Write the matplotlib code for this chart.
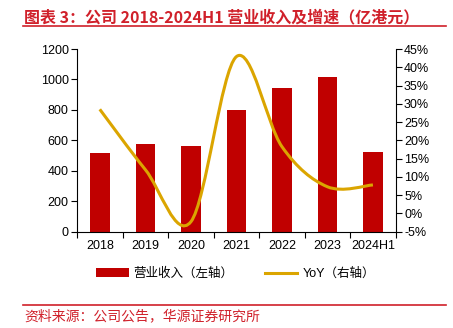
import matplotlib
matplotlib.use("Agg")
import matplotlib.pyplot as plt
from matplotlib.path import Path
from matplotlib.patches import PathPatch
from matplotlib.lines import Line2D
from matplotlib.patches import Patch
import numpy as np

plt.rcParams['font.family'] = ['Liberation Sans', 'Noto Sans CJK SC', 'DejaVu Sans']

categories = ['2018', '2019', '2020', '2021', '2022', '2023', '2024H1']
revenue = [515, 574, 561, 797, 946, 1014, 525]
yoy = [28.5, 12.0, -2.3, 42.9, 18.3, 7.3, 7.8]

bar_color = '#C00000'
line_color = '#DBA500'
red = '#D0202A'

fig = plt.figure(figsize=(4.53, 3.28), dpi=100)
ax = fig.add_axes([0.170, 0.2936, 0.7035, 0.557])
x = np.arange(len(categories))
ax.bar(x, revenue, width=0.43, color=bar_color, zorder=2)
ax.set_xlim(-0.5, len(categories) - 0.5)
ax.set_ylim(0, 1200)
ax.set_yticks(range(0, 1201, 200))
ax.set_xticks(x)
ax.set_xticklabels(categories)
ax.set_xticks(np.arange(-0.5, len(categories), 1), minor=True)
ax.tick_params(axis='x', which='major', length=0, labelsize=9, pad=6)
ax.tick_params(axis='x', which='minor', length=4, width=0.8, direction='out')
ax.tick_params(axis='y', length=4, width=0.8, direction='out', labelsize=9, pad=2)
for s in ['top', 'right']:
    ax.spines[s].set_visible(False)
for s in ['left', 'bottom']:
    ax.spines[s].set_linewidth(0.8)

ax2 = ax.twinx()
ax2.set_ylim(-5, 45)
ax2.set_yticks(range(-5, 46, 5))
ax2.set_yticklabels([f'{v}%' for v in range(-5, 46, 5)])
ax2.tick_params(axis='y', length=4, width=0.8, direction='out', labelsize=9, pad=2)
for s in ['top', 'left', 'bottom']:
    ax2.spines[s].set_visible(False)
ax2.spines['right'].set_linewidth(0.8)

# smooth line (Catmull-Rom via Bezier curves)
pts = np.column_stack([x, yoy]).astype(float)
verts = [tuple(pts[0])]
codes = [Path.MOVETO]
n = len(pts)
for i in range(n - 1):
    p0 = pts[i - 1] if i > 0 else pts[i]
    p1 = pts[i]
    p2 = pts[i + 1]
    p3 = pts[i + 2] if i + 2 < n else pts[i + 1]
    c1 = p1 + (p2 - p0) / 6.0
    c2 = p2 - (p3 - p1) / 6.0
    verts += [tuple(c1), tuple(c2), tuple(p2)]
    codes += [Path.CURVE4] * 3
patch = PathPatch(Path(verts, codes), facecolor='none', edgecolor=line_color,
                  linewidth=2.2, capstyle='butt', zorder=3)
ax2.add_patch(patch)

handles = [Patch(facecolor=bar_color, edgecolor='none'),
           Line2D([0], [0], color=line_color, linewidth=2.2)]
fig.legend(handles, ['营业收入（左轴）', 'YoY（右轴）'], loc='center',
           bbox_to_anchor=(0.52, 0.165), ncol=2, frameon=False, fontsize=9,
           handlelength=2.6, handleheight=0.7, columnspacing=2.5, handletextpad=0.4)

fig.text(0.053, 0.972, '图表 3：公司 2018-2024H1 营业收入及增速（亿港元）', color=red,
         fontsize=11.5, fontweight='bold', va='top', ha='left',
         family=['Noto Sans CJK SC', 'DejaVu Sans'])
fig.add_artist(Line2D([0.051, 0.985], [1 - 26 / 328, 1 - 26 / 328], color=red, linewidth=1.2))
fig.add_artist(Line2D([0.051, 0.985], [1 - 304.5 / 328, 1 - 304.5 / 328], color=red, linewidth=1.2))
fig.text(0.053, 1 - 316 / 328, '资料来源：公司公告，华源证券研究所', color=red,
         fontsize=10, va='center', ha='left', family=['Noto Sans CJK SC', 'DejaVu Sans'])

fig.savefig('out.png', dpi=100)
